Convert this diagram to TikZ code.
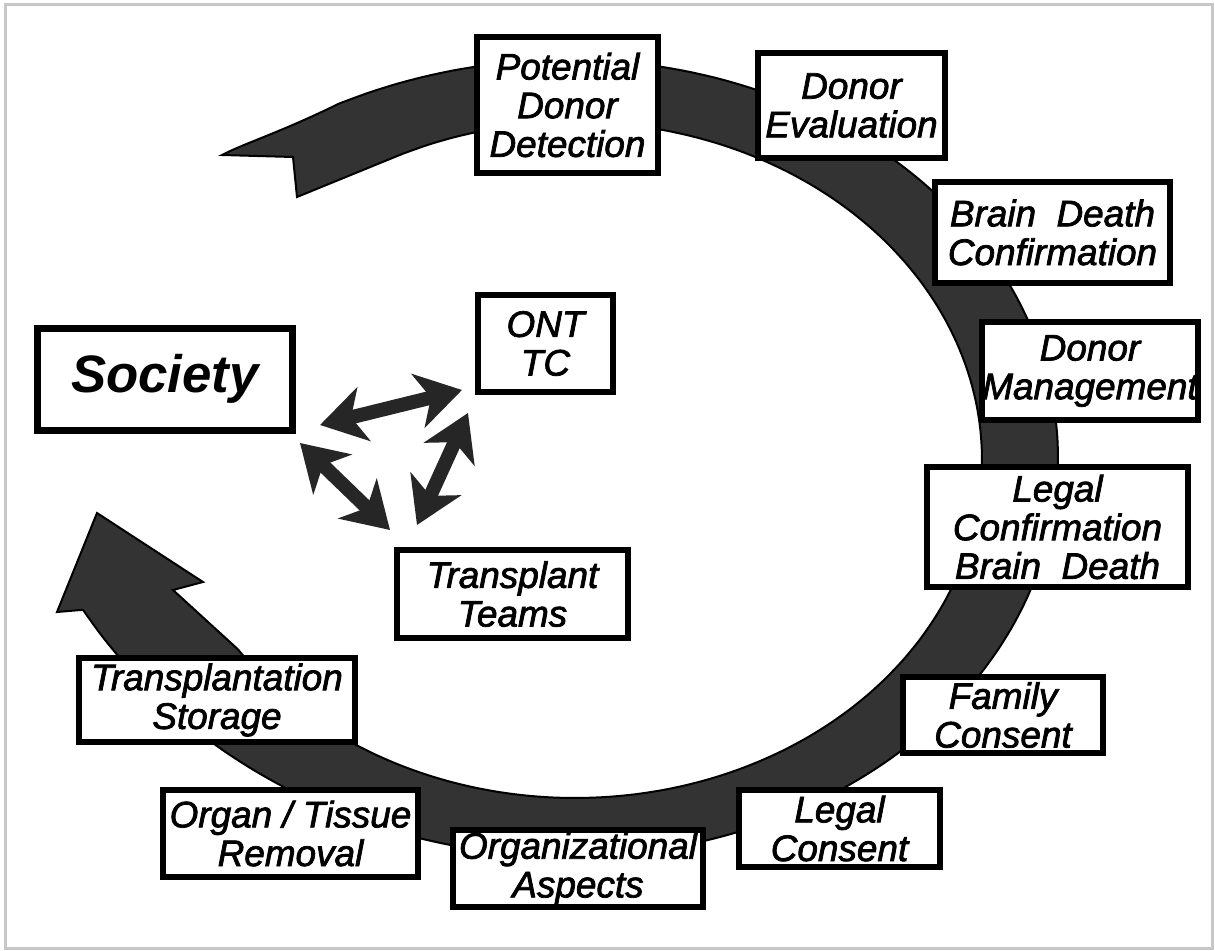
\documentclass[tikz,border=0pt]{standalone}
\usepackage{fontspec}
\setmainfont{Liberation Sans}
\newfontfamily\lblfont{Liberation Sans Italic}[FakeBold=2]
\usetikzlibrary{arrows.meta}

\begin{document}
\begin{tikzpicture}[x=0.2mm, y=-0.2mm,
    box/.style={draw, line width=1.2mm, fill=white, inner sep=0pt, align=center,
        font=\fontsize{21}{22}\selectfont\lblfont},
    band/.style={fill=black!80, draw=black, line width=0.4mm},
    link/.style={black!85, line width=2.8mm,
        {Stealth[length=9mm,width=11mm,inset=2.6mm]}-{Stealth[length=9mm,width=11mm,inset=2.6mm]}}]
    \useasboundingbox[fill=white] (0,0) rectangle (1215,951);
    \draw[black!22, line width=0.6mm] (5,5) rectangle (1212,948);

    % the cycle band, open towards Society; it widens towards both heads
    \fill[band] (97,513) -- (57,612)
        -- plot[domain=520:240, samples=80, smooth]
            ({585+473*(1+0.1*((\x-360)/150)^4)*cos(\x)}, {458+393*(1+0.1*((\x-360)/150)^4)*sin(\x)})
        .. controls (279,133) and (245,143) .. (222,155)
        -- (293,157) -- (297,197)
        -- plot[domain=245:506, samples=70, smooth]
            ({575+407*cos(\x)}, {460+338*sin(\x)})
        -- (173,590) -- (203,582) -- cycle;

    \node[box, minimum width=36.2mm, minimum height=27.2mm] (pdd) at (567.5,105) {Potential\\Donor\\Detection};
    \node[box, minimum width=37.4mm, minimum height=21mm] (de) at (851.5,105.5) {Donor\\Evaluation};
    \node[box, minimum width=47mm, minimum height=20.2mm] (bdc) at (1052.5,232.5) {Brain\ \ Death\\Confirmation};
    \node[box, minimum width=43.2mm, minimum height=19.6mm] (dm) at (1090,371) {Donor\\Management};
    \node[box, minimum width=52.2mm, minimum height=24mm] (lcbd) at (1057.5,527) {Legal\\Confirmation\\Brain\ \ Death};
    \node[box, minimum width=40mm, minimum height=15.2mm] (fc) at (1003,715) {Family\\Consent};
    \node[box, minimum width=40.2mm, minimum height=15.4mm] (lc) at (839.5,828.5) {Legal\\Consent};
    \node[box, minimum width=50mm, minimum height=15.4mm] (oa) at (578,868.5) {Organizational\\Aspects};
    \node[box, minimum width=51mm, minimum height=17.4mm] (otr) at (290.5,833.5) {Organ / Tissue\\Removal};
    \node[box, minimum width=55.2mm, minimum height=16.8mm] (ts) at (217,700) {Transplantation\\Storage};

    \node[box, minimum width=46.2mm, minimum height=17.6mm] (tt) at (512.5,594) {Transplant\\Teams};
    \node[box, minimum width=27mm, minimum height=19.4mm] (ont) at (545.5,343.5) {ONT\\TC};
    \node[box, line width=1.4mm, minimum width=50.8mm, minimum height=20.4mm,
        font=\fontsize{30}{32}\selectfont\bfseries\itshape] (soc) at (165,379) {Society};

    % ends of the three exchange arrows
    \coordinate (socR) at (320,425);
    \coordinate (ontL) at (462,390);
    \coordinate (socB) at (300,443);
    \coordinate (ttL) at (390,530);
    \coordinate (ttR) at (417,525);
    \coordinate (ontB) at (468,413);

    \draw[link] (socR) -- (ontL);
    \draw[link] (socB) -- (ttL);
    \draw[link] (ttR) -- (ontB);
\end{tikzpicture}
\end{document}
